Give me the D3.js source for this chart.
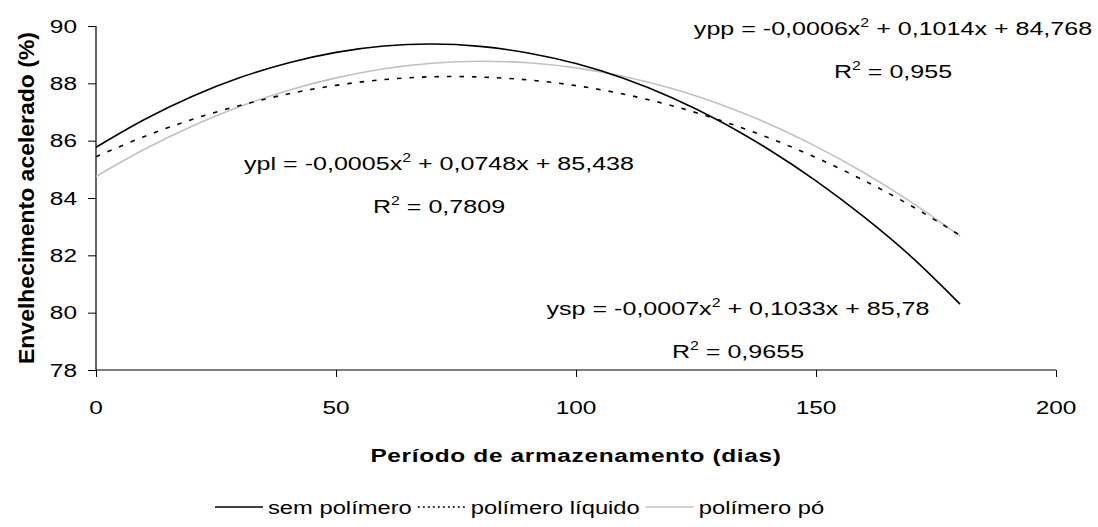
<!DOCTYPE html>
<html>
<head>
<meta charset="utf-8">
<script src="https://cdn.jsdelivr.net/npm/d3@7"></script>
<style>
  html, body { margin: 0; padding: 0; background: #fff; }
  svg { display: block; font-family: "Liberation Sans", Arial, sans-serif; }
</style>
</head>
<body>
<svg id="chart" width="1098" height="527"></svg>
<script>
// Storage period (days) at which each curve was sampled
const days = [0, 10, 20, 30, 40, 50, 60, 70, 80, 90, 100, 110, 120, 130, 140, 150, 160, 170, 180];

// Accelerated ageing (%) per treatment
const semPolimero     = [85.77, 86.73, 87.54, 88.20, 88.71, 89.08, 89.30, 89.37, 89.29, 89.06, 88.69, 88.17, 87.50, 86.68, 85.71, 84.60, 83.34, 81.93, 80.30];
const polimeroLiquido = [85.44, 86.14, 86.74, 87.23, 87.63, 87.93, 88.13, 88.23, 88.22, 88.12, 87.92, 87.62, 87.22, 86.71, 86.11, 85.41, 84.61, 83.71, 82.70];
const polimeroPo      = [84.75, 85.69, 86.50, 87.19, 87.75, 88.19, 88.51, 88.70, 88.77, 88.72, 88.54, 88.24, 87.82, 87.27, 86.60, 85.80, 84.88, 83.84, 82.67];

const seriesNames = ["sem polímero", "polímero líquido", "polímero pó"];

// Axis ticks
const xTicks = [0, 50, 100, 150, 200];
const yTicks = [78, 80, 82, 84, 86, 88, 90];

// Fitted equations shown beside the curves
const equations = [
  { pre: "ypp = -0,0006x", post: " + 0,1014x + 84,768", r2: " = 0,955" },
  { pre: "ypl = -0,0005x", post: " + 0,0748x + 85,438", r2: " = 0,7809" },
  { pre: "ysp = -0,0007x", post: " + 0,1033x + 85,78", r2: " = 0,9655" }
];

const svg = d3.select("#chart");
const SX = 1.32; // horizontal widening of the lettering

const plot = { left: 96, right: 1056, top: 26, bottom: 370 };

const x = d3.scaleLinear().domain([0, 200]).range([plot.left, plot.right]);
const y = d3.scaleLinear().domain([78, 90]).range([plot.bottom, plot.top]);

// Axes
const xAxis = d3.axisBottom(x).tickValues(xTicks).tickSize(7).tickFormat("");
const yAxis = d3.axisLeft(y).tickValues(yTicks).tickSize(8).tickFormat("");

const gx = svg.append("g").attr("transform", `translate(0,${plot.bottom})`).call(xAxis);
const gy = svg.append("g").attr("transform", `translate(${plot.left},0)`).call(yAxis);
[gx, gy].forEach(g => {
  g.select(".domain").attr("stroke", "#000").attr("stroke-width", 1.2);
  g.selectAll(".tick line").attr("stroke", "#000").attr("stroke-width", 1);
});
gx.select(".domain").attr("d", `M${plot.left},0H${plot.right}`);
gy.select(".domain").attr("d", `M0,${plot.top}V${plot.bottom}`);

// Text helper: widened lettering anchored at (px, py)
function label(parent, px, py, str, opts = {}) {
  return parent.append("text")
    .attr("transform", `translate(${px},${py}) scale(${SX},1)`)
    .attr("text-anchor", opts.anchor || "start")
    .attr("font-size", opts.size || 19)
    .attr("font-weight", opts.weight || "normal")
    .attr("letter-spacing", opts.spacing || null)
    .attr("fill", "#000")
    .text(str);
}

// Tick labels
xTicks.forEach(v => label(svg, x(v), 414, String(v), { anchor: "middle", size: 18.5 }));
yTicks.forEach(v => label(svg, 77, y(v) + 6.5, String(v), { anchor: "end", size: 18.5 }));

// Axis titles
label(svg, (plot.left + plot.right) / 2, 462, "Período de armazenamento (dias)",
  { anchor: "middle", size: 18.5, weight: "bold", spacing: 0.5 });
svg.append("text")
  .attr("transform", `translate(34,${(plot.top + plot.bottom) / 2}) rotate(-90) scale(1,1.25)`)
  .attr("text-anchor", "middle")
  .attr("font-size", 17)
  .attr("font-weight", "bold")
  .attr("textLength", 332)
  .attr("lengthAdjust", "spacingAndGlyphs")
  .text("Envelhecimento acelerado (%)");

// Curves
const series = [
  { name: seriesNames[0], values: semPolimero,     color: "#000",    dash: null },
  { name: seriesNames[1], values: polimeroLiquido, color: "#000",    dash: "4.5,8" },
  { name: seriesNames[2], values: polimeroPo,      color: "#c0c0c0", dash: null }
];

const line = d3.line()
  .x((d, i) => x(days[i]))
  .y(d => y(d))
  .curve(d3.curveCatmullRom.alpha(0.5));

// draw grey first so the black curves sit on top
[series[2], series[1], series[0]].forEach(s => {
  svg.append("path")
    .datum(s.values)
    .attr("fill", "none")
    .attr("stroke", s.color)
    .attr("stroke-width", 1.6)
    .attr("stroke-dasharray", s.dash)
    .attr("d", line);
});

// Equation labels
function equation(cx, by, eq) {
  const t = svg.append("text")
    .attr("transform", `translate(${cx},${by}) scale(${SX},1)`)
    .attr("text-anchor", "middle")
    .attr("font-size", 19)
    .attr("fill", "#000");
  t.append("tspan").text(eq.pre);
  t.append("tspan").attr("font-size", 12).attr("dy", -8).text("2");
  t.append("tspan").attr("dy", 8).text(eq.post);

  const r = svg.append("text")
    .attr("transform", `translate(${cx},${by + 43}) scale(${SX},1)`)
    .attr("text-anchor", "middle")
    .attr("font-size", 19)
    .attr("fill", "#000");
  r.append("tspan").text("R");
  r.append("tspan").attr("font-size", 12).attr("dy", -8).text("2");
  r.append("tspan").attr("dy", 8).text(eq.r2);
}
equation(893, 35, equations[0]);
equation(439, 170, equations[1]);
equation(738, 315, equations[2]);

// Legend: sample line followed by its name, laid out left to right
const legendY = 507;
let lx = 215;
series.forEach(s => {
  svg.append("line")
    .attr("x1", lx).attr("x2", lx + 48)
    .attr("y1", legendY).attr("y2", legendY)
    .attr("stroke", s.color)
    .attr("stroke-width", 1.6)
    .attr("stroke-dasharray", s.dash ? "2,3" : null);
  const t = label(svg, lx + 53, legendY + 6.5, s.name, { size: 18 });
  lx = lx + 53 + t.node().getComputedTextLength() * SX + 6;
});
</script>
</body>
</html>
